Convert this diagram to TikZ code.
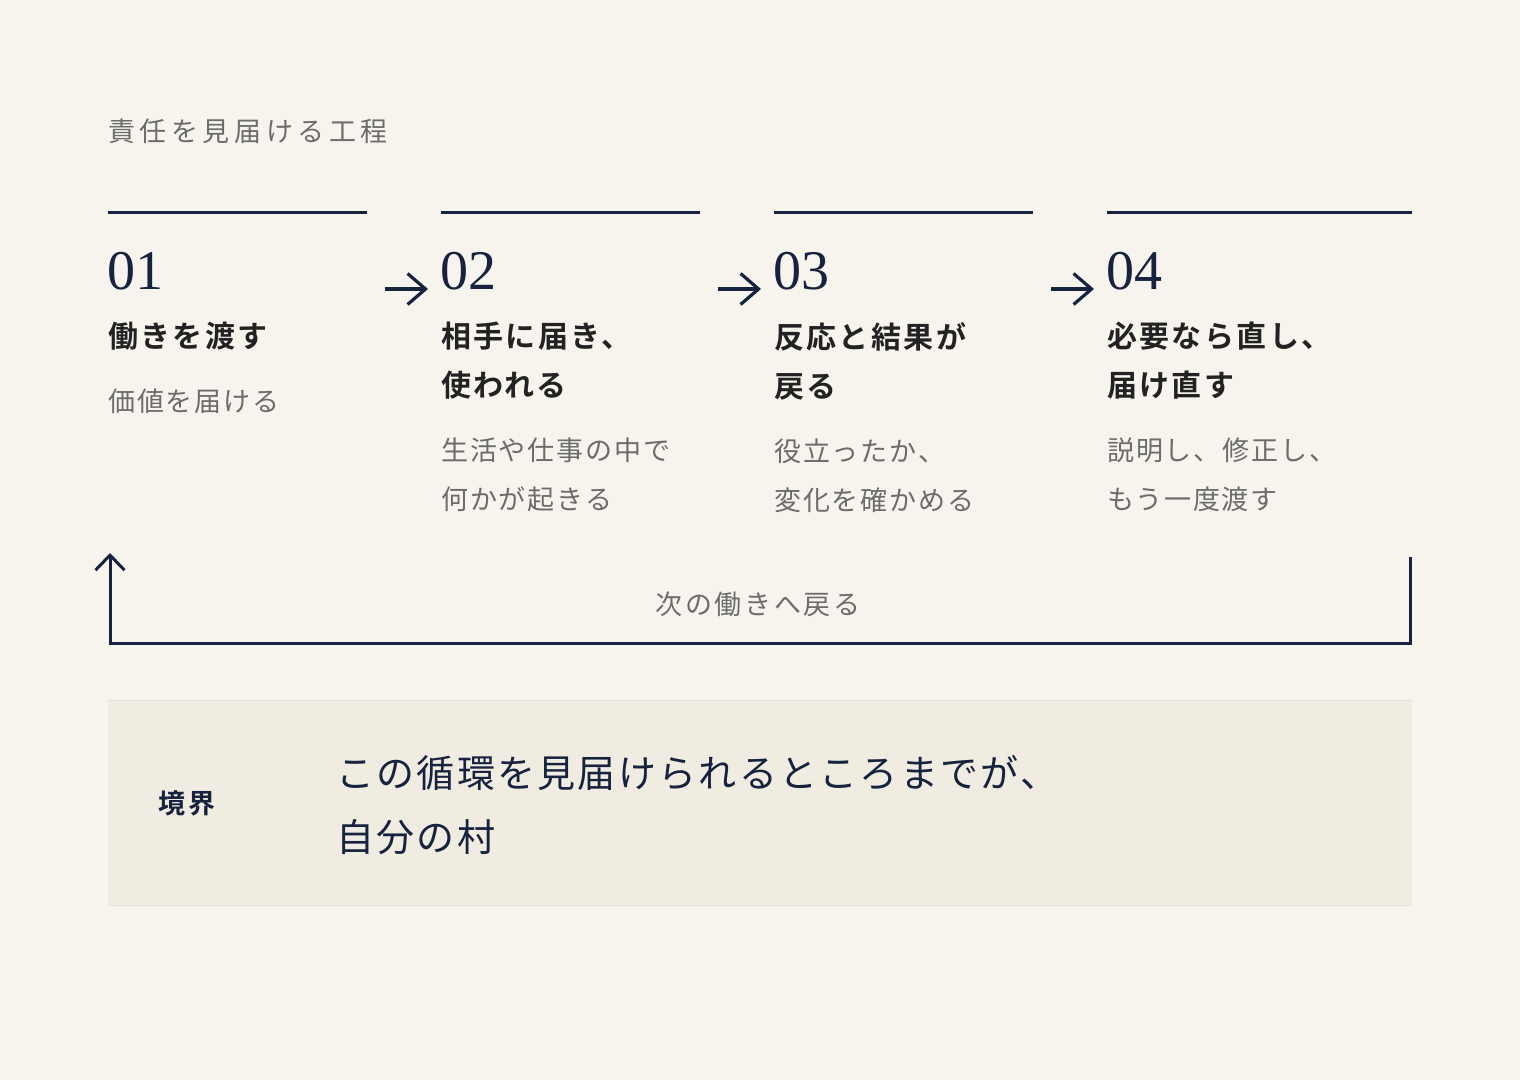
\documentclass[tikz,border=0pt]{standalone}
\usepackage{fontspec}
\usepackage{tikz}
\usepackage{xcolor}
\usetikzlibrary{positioning}
\usetikzlibrary{arrows.meta}
\setmainfont{Liberation Serif}
\newfontfamily\jpTitle[LetterSpace=17]{Noto Sans CJK JP}
\newfontfamily\jpHead[LetterSpace=8]{Noto Sans CJK JP Bold}
\newfontfamily\jpSub[LetterSpace=7]{Noto Sans CJK JP}
\newfontfamily\jpLoop[LetterSpace=10]{Noto Sans CJK JP}
\newfontfamily\jpLabel[LetterSpace=11]{Noto Sans CJK JP Bold}
\newfontfamily\jpMain[LetterSpace=6]{Noto Sans CJK JP}
\definecolor{bgcolor}{RGB}{247,244,238}
\definecolor{navy}{RGB}{22,34,62}
\definecolor{inkgray}{RGB}{108,108,108}
\definecolor{headink}{RGB}{34,34,34}
\definecolor{boxfill}{RGB}{240,236,226}
\definecolor{boxrule}{RGB}{228,224,214}
\tikzstyle{toprule} = [
	navy,
	line width=3pt
]
\tikzstyle{stepnum} = [
	anchor=base west,
	inner sep=0pt,
	text=navy,
	font=\fontsize{56}{56}\selectfont
]
\tikzstyle{stephead} = [
	anchor=north west,
	inner sep=0pt,
	align=left,
	text=headink,
	font=\jpHead\fontsize{30}{49}\selectfont
]
\tikzstyle{stepsub} = [
	anchor=north west,
	inner sep=0pt,
	align=left,
	text=inkgray,
	font=\jpSub\fontsize{27}{49}\selectfont
]
\tikzstyle{steparrow} = [
	navy,
	line width=3.2pt,
	-{Straight Barb[length=18pt,width=31pt]}
]
\tikzstyle{looparrow} = [
	navy,
	line width=3pt,
	-{Straight Barb[length=15pt,width=29pt]}
]

\begin{document}
\begin{tikzpicture}[x=1pt, y=1pt]

	\fill[bgcolor] (0,0) rectangle (1520,-1080);
	\useasboundingbox (0,0) rectangle (1520,-1080);

	%
	% Title
	\node[anchor=west, inner sep=0pt, text=inkgray, font=\jpTitle\fontsize{27}{27}\selectfont] (title) at (108,-131) {責任を見届ける工程};

	%
	% Top rules
	\draw[toprule] (108,-212.5) -- (367,-212.5);
	\draw[toprule] (441,-212.5) -- (700,-212.5);
	\draw[toprule] (774,-212.5) -- (1033,-212.5);
	\draw[toprule] (1107,-212.5) -- (1412,-212.5);

	%
	% Step 01
	\node[stepnum] (n1) at (107,-289) {01};
	\node[stephead] (h1) at (108,-322) {働きを渡す};
	\node[stepsub, below=38pt of h1.south west, anchor=north west] (s1) {価値を届ける};

	%
	% Step 02
	\node[stepnum] (n2) at (440,-289) {02};
	\node[stephead] (h2) at (441,-322) {相手に届き、\\使われる};
	\node[stepsub, below=38pt of h2.south west, anchor=north west] (s2) {生活や仕事の中で\\何かが起きる};

	%
	% Step 03
	\node[stepnum] (n3) at (773,-289) {03};
	\node[stephead] (h3) at (774,-322) {反応と結果が\\戻る};
	\node[stepsub, below=38pt of h3.south west, anchor=north west] (s3) {役立ったか、\\変化を確かめる};

	%
	% Step 04
	\node[stepnum] (n4) at (1106,-289) {04};
	\node[stephead] (h4) at (1107,-322) {必要なら直し、\\届け直す};
	\node[stepsub, below=38pt of h4.south west, anchor=north west] (s4) {説明し、修正し、\\もう一度渡す};

	%
	% Arrows between steps
	\draw[steparrow] ([xshift=-55pt]n2.base west) -- ([xshift=-12pt]n2.base west);
	\draw[steparrow] ([xshift=-55pt]n3.base west) -- ([xshift=-12pt]n3.base west);
	\draw[steparrow] ([xshift=-55pt]n4.base west) -- ([xshift=-12pt]n4.base west);

	%
	% Loop back
	\coordinate (loopStart) at (1410.5,-557);
	\coordinate (loopCorner) at (110,-643.5);
	\coordinate (loopEnd) at (110,-553);
	\draw[looparrow] (loopStart) |- (loopCorner) -- (loopEnd);
	\node[inner sep=0pt, text=inkgray, font=\jpLoop\fontsize{27}{27}\selectfont] (loopLabel) at (758,-604) {次の働きへ戻る};

	%
	% Boundary box
	\fill[boxfill] (108,-700) rectangle (1412,-905);
	\draw[boxrule, line width=1pt] (108,-700) -- (1412,-700);
	\draw[boxrule, line width=1pt] (108,-905) -- (1412,-905);
	\node[anchor=west, inner sep=0pt, text=navy, font=\jpLabel\fontsize{27}{27}\selectfont] (boxLabel) at (158,-803) {境界};
	\node[anchor=north west, inner sep=0pt, align=left, text=navy, font=\jpMain\fontsize{38}{64}\selectfont] (boxText) at (336,-755) {この循環を見届けられるところまでが、\\自分の村};

\end{tikzpicture}
\end{document}
